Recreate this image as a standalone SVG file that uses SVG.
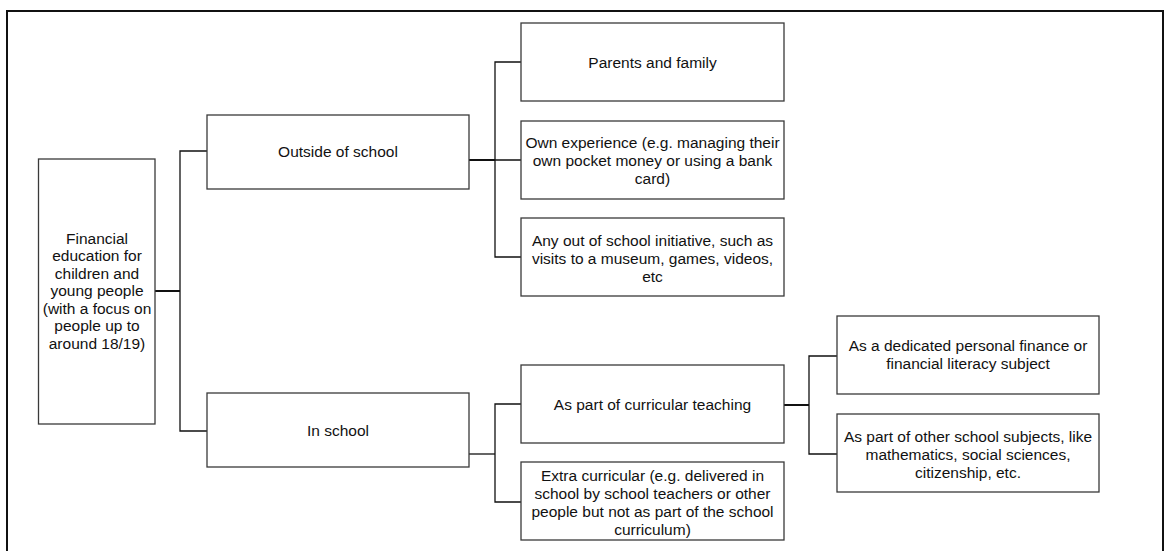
<svg xmlns="http://www.w3.org/2000/svg" width="1166" height="551" viewBox="0 0 1166 551">
<style>
.box{fill:#fff;stroke:#3a3a3a;stroke-width:1.3}
.t{font-family:"Liberation Sans",Arial,sans-serif;font-size:15.5px;fill:#111;text-anchor:middle}
.c{fill:none;stroke:#111;stroke-width:1.3}
.cb{fill:none;stroke:#111;stroke-width:2}
</style>
<rect x="0" y="0" width="1166" height="551" fill="#fff"/>
<rect x="7" y="11" width="1156" height="560" fill="none" stroke="#111" stroke-width="2"/>
<g id="connectors">
<path class="cb" d="M155 291H180"/>
<path class="c" d="M207 151H180V431H207"/>
<path class="cb" d="M469 160H495"/>
<path class="c" d="M521 62H495V257H521M495 160H521"/>
<path class="c" d="M469 454H495"/>
<path class="c" d="M521 404H495V502H521"/>
<path class="cb" d="M784 405H809"/>
<path class="c" d="M837 356H809V454H837"/>
</g>
<g id="root">
<rect class="box" x="38.5" y="159" width="116.5" height="265"/>
<text class="t"><tspan x="97" y="243.5">Financial</tspan><tspan x="97" y="261">education for</tspan><tspan x="97" y="278.5">children and</tspan><tspan x="97" y="296">young people</tspan><tspan x="97" y="313.5">(with a focus on</tspan><tspan x="97" y="331">people up to</tspan><tspan x="97" y="348.5">around 18/19)</tspan></text>
</g>
<g id="outside">
<rect class="box" x="207" y="115" width="262" height="74"/>
<text class="t" x="338" y="156.5">Outside of school</text>
</g>
<g id="inschool">
<rect class="box" x="207" y="393" width="262" height="74"/>
<text class="t" x="338" y="436">In school</text>
</g>
<g id="parents">
<rect class="box" x="521" y="23" width="263" height="78"/>
<text class="t" x="652.5" y="67.5">Parents and family</text>
</g>
<g id="own">
<rect class="box" x="521" y="121" width="263" height="78"/>
<text class="t"><tspan x="652.5" y="147.5">Own experience (e.g. managing their</tspan><tspan x="652.5" y="165.5">own pocket money or using a bank</tspan><tspan x="652.5" y="183.5">card)</tspan></text>
</g>
<g id="anyout">
<rect class="box" x="521" y="218" width="263" height="78"/>
<text class="t"><tspan x="652.5" y="245.5">Any out of school initiative, such as</tspan><tspan x="652.5" y="263.5">visits to a museum, games, videos,</tspan><tspan x="652.5" y="281.5">etc</tspan></text>
</g>
<g id="curricular">
<rect class="box" x="521" y="365" width="263" height="78"/>
<text class="t" x="652.5" y="409.5">As part of curricular teaching</text>
</g>
<g id="extra">
<rect class="box" x="521" y="462" width="263" height="78"/>
<text class="t"><tspan x="652.5" y="480.5">Extra curricular (e.g. delivered in</tspan><tspan x="652.5" y="498.5">school by school teachers or other</tspan><tspan x="652.5" y="516.5">people but not as part of the school</tspan><tspan x="652.5" y="534.5">curriculum)</tspan></text>
</g>
<g id="dedicated">
<rect class="box" x="837" y="316" width="262" height="78"/>
<text class="t"><tspan x="968" y="350.5">As a dedicated personal finance or</tspan><tspan x="968" y="368.5">financial literacy subject</tspan></text>
</g>
<g id="other">
<rect class="box" x="837" y="414" width="262" height="78"/>
<text class="t"><tspan x="968" y="441.5">As part of other school subjects, like</tspan><tspan x="968" y="459.5">mathematics, social sciences,</tspan><tspan x="968" y="477.5">citizenship, etc.</tspan></text>
</g>
</svg>
